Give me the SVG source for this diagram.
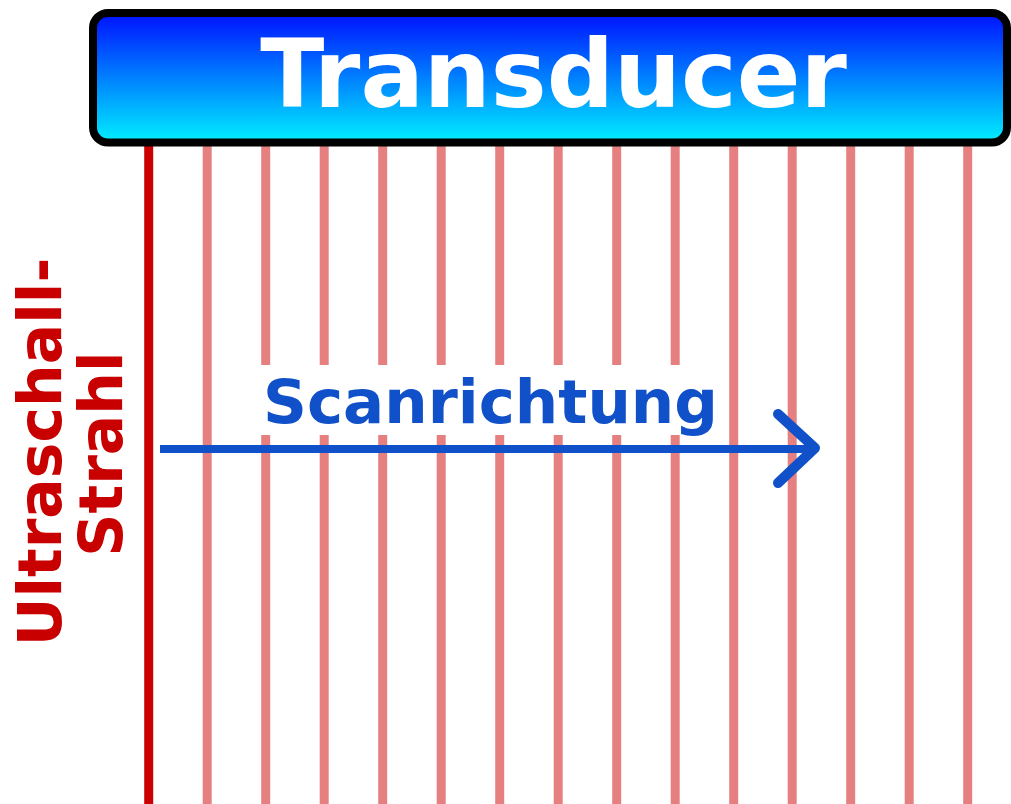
<svg xmlns="http://www.w3.org/2000/svg" width="1011" height="804" viewBox="0 0 1011 804">
<defs>
<linearGradient id="g" x1="0" y1="0" x2="0" y2="1">
<stop offset="0" stop-color="#0010ff"/>
<stop offset="1" stop-color="#00f0ff"/>
</linearGradient>
<style>
.beam{stroke:#e68080;stroke-width:9;fill:none}
.main{stroke:#cc0000;stroke-width:9;fill:none}
.lbl{font-family:"DejaVu Sans",sans-serif;font-weight:bold}
.blue{stroke:#1050c8;fill:none}
</style>
</defs>
<g id="beams">
<line class="main" x1="148.7" y1="140" x2="148.7" y2="804"/>
<line class="beam" x1="207.2" y1="140" x2="207.2" y2="804"/>
<path class="beam" d="M265.7 140V365M265.7 435V804"/>
<path class="beam" d="M324.2 140V365M324.2 435V804"/>
<path class="beam" d="M382.7 140V365M382.7 435V804"/>
<path class="beam" d="M441.2 140V365M441.2 435V804"/>
<path class="beam" d="M499.7 140V365M499.7 435V804"/>
<path class="beam" d="M558.2 140V365M558.2 435V804"/>
<path class="beam" d="M616.7 140V365M616.7 435V804"/>
<path class="beam" d="M675.2 140V365M675.2 435V804"/>
<line class="beam" x1="733.7" y1="140" x2="733.7" y2="804"/>
<line class="beam" x1="792.2" y1="140" x2="792.2" y2="804"/>
<line class="beam" x1="850.7" y1="140" x2="850.7" y2="804"/>
<line class="beam" x1="909.2" y1="140" x2="909.2" y2="804"/>
<line class="beam" x1="967.7" y1="140" x2="967.7" y2="804"/>
</g>
<g id="transducer">
<rect x="93" y="13" width="914" height="129.5" rx="15" fill="url(#g)" stroke="#000" stroke-width="8"/>
<text class="lbl" x="553.5" y="107" font-size="94" fill="#fff" text-anchor="middle">Transducer</text>
</g>
<g id="label-beam">
<text class="lbl" transform="translate(61,452) rotate(-90)" font-size="60" fill="#c80000" text-anchor="middle">Ultraschall-</text>
<text class="lbl" transform="translate(122,454) rotate(-90)" font-size="60" fill="#c80000" text-anchor="middle">Strahl</text>
</g>
<g id="connectors">
<line class="blue" x1="160" y1="449" x2="812" y2="449" stroke-width="8"/>
<polyline class="blue" points="778,414 815,448 778,483" stroke-width="10" stroke-linecap="round" stroke-linejoin="round"/>
</g>
<g id="scan-label">
<text class="lbl" x="490.5" y="423" font-size="61" fill="#1050c8" text-anchor="middle">Scanrichtung</text>
</g>
</svg>
